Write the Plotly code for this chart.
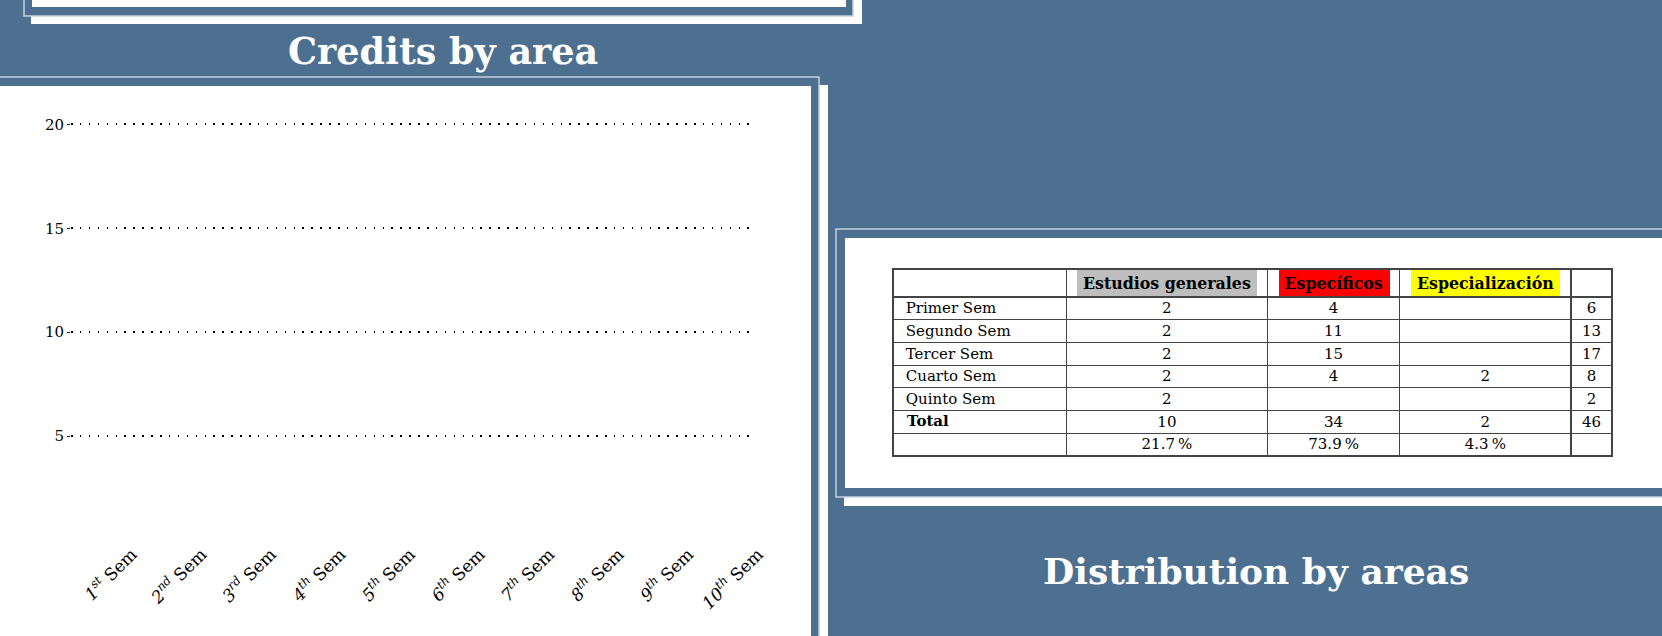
import plotly.graph_objects as go

# ---------------- data ----------------
semesters = ["1", "2", "3", "4", "5", "6", "7", "8", "9", "10"]
suffixes = ["st", "nd", "rd", "th", "th", "th", "th", "th", "th", "th"]
y_ticks = [5, 10, 15, 20]

row_names = ["Primer Sem", "Segundo Sem", "Tercer Sem", "Cuarto Sem", "Quinto Sem", "Total", ""]
estudios_generales = ["2", "2", "2", "2", "2", "10", "21.7\u2009%"]
especificos = ["4", "11", "15", "4", "", "34", "73.9\u2009%"]
especializacion = ["", "", "", "2", "", "2", "4.3\u2009%"]
totals = ["6", "13", "17", "8", "2", "46", ""]
header_labels = ["", "Estudios generales", "Específicos", "Especialización", ""]

# ---------------- styling ----------------
W, H = 1662, 636
BG = "#4D7090"
FRAME = "#C3D1DD"
SERIF = "DejaVu Serif"

TABLE_X0, TABLE_X1, TABLE_TOP = 893, 1612, 269
HEADER_H, ROW_H = 28, 22.7
TEXT_LIFT = 3  # cell text sits a little higher than plotly's default
COL_W = [173, 201, 132, 171, 41]

Y_RANGE = [0, 21.5]
Y_DOMAIN_PX = (540, 93.2)


def X(px):
    return px / W


def Y(py):
    return 1 - py / H


def rect(x0, y0, x1, y1, fill, line_color=None, line_width=0):
    return dict(type="rect", xref="paper", yref="paper",
                x0=X(x0), x1=X(x1), y0=Y(y1), y1=Y(y0),
                fillcolor=fill, layer="below",
                line=dict(color=line_color or fill, width=line_width))


shapes = []
# top box (cut off)
shapes.append(rect(31, -3, 862, 24, "white"))
shapes.append(rect(24, -3, 853, 16, BG, FRAME, 1.5))
shapes.append(rect(32, -3, 846, 7, "white"))
# left panel (chart)
shapes.append(rect(-3, 85, 828, 639, "white"))
shapes.append(rect(-3, 77, 819, 639, BG, FRAME, 1.5))
shapes.append(rect(-3, 86, 811, 639, "white"))
# right panel (table)
shapes.append(rect(844, 237, 1665, 506, "white"))
shapes.append(rect(836, 229, 1665, 497, BG, FRAME, 1.5))
shapes.append(rect(845, 238, 1665, 488, "white"))
# header highlight boxes
shapes.append(rect(1077, 270, 1257, 297, "#BEBEBE"))
shapes.append(rect(1279, 270, 1390, 297, "#FF0000"))
shapes.append(rect(1411, 270, 1560, 297, "#FFFF00"))

fig = go.Figure()

# chart (axes only – no bars are drawn in the reference)
fig.add_trace(go.Scatter(x=[], y=[], mode="markers", showlegend=False, hoverinfo="skip"))
fig.add_trace(go.Scatter(x=[], y=[], xaxis="x2", yaxis="y2", mode="markers",
                         showlegend=False, hoverinfo="skip"))

tick_text = [f"<i>{n}<sup>{s}</sup></i> Sem" for n, s in zip(semesters, suffixes)]

# table: bold row names ("Total") are written as annotations so that the
# table rows keep their fixed height
bold_rows = {"Total"}
first_col = ["" if r in bold_rows else "\u00a0" + r for r in row_names]
n_rows = len(row_names)
blank = [[""] * n_rows for _ in COL_W]
TDOM = dict(x=[X(TABLE_X0), X(TABLE_X1)], y=[Y(480), Y(TABLE_TOP)])

# grid of the table (borders only)
fig.add_trace(go.Table(
    domain=TDOM,
    columnwidth=COL_W,
    header=dict(values=[""] * len(COL_W), height=HEADER_H,
                fill=dict(color="rgba(0,0,0,0)"),
                line=dict(color="#444", width=1.2)),
    cells=dict(values=blank, height=ROW_H,
               fill=dict(color="rgba(0,0,0,0)"),
               line=dict(color="#444", width=1.2)),
))
# text of the table
fig.add_trace(go.Table(
    domain=TDOM,
    columnwidth=COL_W,
    header=dict(
        values=header_labels,
        height=HEADER_H - TEXT_LIFT,
        align="center",
        fill=dict(color="rgba(0,0,0,0)"),
        line=dict(color="rgba(0,0,0,0)", width=0),
        font=dict(family=SERIF, size=15.8, color="black", weight="bold"),
    ),
    cells=dict(
        values=[first_col, estudios_generales, especificos, especializacion, totals],
        height=ROW_H,
        align=["left", "center", "center", "center", "center"],
        fill=dict(color="rgba(0,0,0,0)"),
        line=dict(color="rgba(0,0,0,0)", width=0),
        font=dict(family=SERIF, size=15, color="black"),
    ),
))

annotations = [
    dict(text="<b>Credits by area</b>", xref="paper", yref="paper",
         x=X(443), y=Y(51), xanchor="center", yanchor="middle", showarrow=False,
         font=dict(family=SERIF, size=36.5, color="white")),
    dict(text="<b>Distribution by areas</b>", xref="paper", yref="paper",
         x=X(1256), y=Y(571), xanchor="center", yanchor="middle", showarrow=False,
         font=dict(family=SERIF, size=36, color="white")),
]
for i, r in enumerate(row_names):
    if r in bold_rows:
        yc = TABLE_TOP + HEADER_H + ROW_H * (i + 0.5)
        annotations.append(dict(
            text=f"<b>{r}</b>", xref="paper", yref="paper",
            x=X(TABLE_X0 + 12), y=Y(yc - 1), xanchor="left", yanchor="middle",
            showarrow=False, font=dict(family=SERIF, size=15, color="black")))

fig.update_layout(
    width=W, height=H,
    autosize=False,
    margin=dict(l=0, r=0, t=0, b=0),
    paper_bgcolor=BG,
    plot_bgcolor="rgba(0,0,0,0)",
    showlegend=False,
    shapes=shapes,
    annotations=annotations,
    # axis pair that carries the grid
    xaxis=dict(
        domain=[X(71), X(752)],
        range=[0, 1],
        showticklabels=False, ticks="",
        showgrid=False, zeroline=False, showline=False,
        fixedrange=True,
    ),
    yaxis=dict(
        domain=[Y(Y_DOMAIN_PX[0]), Y(Y_DOMAIN_PX[1])],
        range=Y_RANGE,
        tickvals=y_ticks,
        showgrid=True,
        gridcolor="#000",
        gridwidth=1.5,
        griddash="1.5px,7.4px",
        zeroline=False, showline=False,
        ticks="outside", ticklen=3, tickwidth=1, tickcolor="#111",
        tickfont=dict(family=SERIF, size=15, color="black"),
        fixedrange=True,
    ),
    # axis pair that carries the semester labels (no grid)
    xaxis2=dict(
        domain=[X(71), X(780)],
        anchor="y2",
        range=[-0.877, 9.316],
        tickvals=list(range(len(semesters))),
        ticktext=tick_text,
        tickangle=-45,
        showgrid=False, zeroline=False, showline=False,
        tickfont=dict(family=SERIF, size=17, color="black"),
        fixedrange=True,
    ),
    yaxis2=dict(
        domain=[Y(Y_DOMAIN_PX[0]), Y(Y_DOMAIN_PX[1])],
        anchor="x2",
        range=Y_RANGE,
        showgrid=False, showticklabels=False, ticks="",
        zeroline=False, showline=False,
        fixedrange=True,
    ),
)

post = (
    "document.documentElement.style.overflow='hidden';"
    "document.body.style.overflow='hidden';"
    "document.body.style.margin='0';"
    "document.body.style.background='BGC';"
).replace("BGC", BG)

fig.write_html(
    "out.html",
    config=dict(displayModeBar=False, responsive=False),
    post_script=post,
)
